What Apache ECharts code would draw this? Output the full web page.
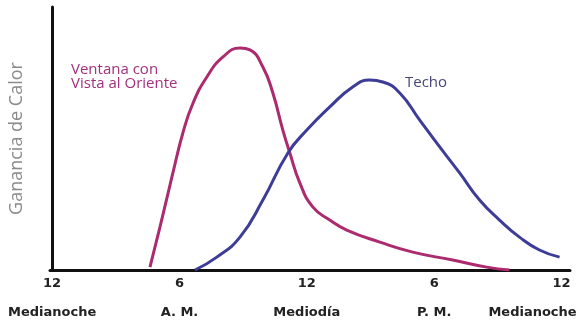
<!DOCTYPE html>
<html>
<head>
<meta charset="utf-8">
<script src="https://cdn.jsdelivr.net/npm/echarts@6/dist/echarts.min.js"></script>
<style>
html,body{margin:0;padding:0;background:#fff;}
#c{width:587px;height:326px;}
</style>
</head>
<body>
<div id="c"></div>
<script>
// Hours of the day (0 = midnight, 12 = noon, 24 = midnight)
const tickHours = [0, 6, 12, 18, 24];
const tickNumbers = ['12', '6', '12', '6', '12'];
const tickWords = ['Medianoche', 'A. M.', 'Mediodía', 'P. M.', 'Medianoche'];

const windowName = 'Ventana con\nVista al Oriente';
const roofName = 'Techo';

// East-facing window heat gain [hour, relative gain]
const windowHours = [4.61, 5.08, 5.69, 6.16, 6.64, 7.29, 8.05, 8.85, 9.32, 9.93, 10.40, 10.87, 11.2, 11.67, 12.28, 13.08, 13.88, 15.44, 16.99, 18.87, 20.47, 21.55];
const windowGain  = [1.1, 16.3, 36.9, 52.1, 63.5, 73.4, 81.0, 84.4, 83.7, 77.2, 67.3, 53.2, 44.5, 33.1, 24.0, 19.0, 15.2, 10.6, 6.8, 3.8, 1.1, 0];

// Roof heat gain [hour, relative gain]
const roofHours = [6.73, 7.76, 8.85, 9.93, 11.11, 12.0, 13.08, 14.16, 14.96, 15.58, 16.38, 17.32, 18.26, 19.20, 20.14, 21.08, 22.02, 22.96, 23.91];
const roofGain  = [0, 4.9, 12.5, 26.6, 44.5, 53.2, 62.0, 69.6, 72.2, 71.5, 67.3, 57.0, 46.8, 36.9, 26.6, 19.0, 12.5, 7.6, 4.9];

const zip = (xs, ys) => xs.map((x, i) => [x, ys[i]]);

const chart = echarts.init(document.getElementById('c'), null, {renderer: 'canvas'});
chart.setOption({
  animation: false,
  backgroundColor: '#ffffff',
  grid: {left: 50, right: 17, top: 7, bottom: 56, containLabel: false, outerBoundsMode: 'none'},
  xAxis: {
    type: 'value',
    min: -0.1,
    max: 24.4,
    axisLine: {show: true, lineStyle: {color: '#111', width: 3}},
    axisTick: {show: false},
    splitLine: {show: false},
    axisLabel: {
      customValues: tickHours,
      margin: 3,
      hideOverlap: false,
      formatter: function (v) {
        const i = tickHours.indexOf(v);
        if (i < 0) return '';
        const wStyle = (i === tickHours.length - 1) ? 'wl' : 'w';
        return '{n|' + tickNumbers[i] + '}\n{' + wStyle + '|' + tickWords[i] + '}';
      },
      rich: {
        n: {fontFamily: 'DejaVu Sans', fontWeight: 'bold', fontSize: 13, color: '#222', lineHeight: 22},
        w: {fontFamily: 'DejaVu Sans', fontWeight: 'bold', fontSize: 13, color: '#222', lineHeight: 36},
        wl: {fontFamily: 'DejaVu Sans', fontWeight: 'bold', fontSize: 13, color: '#222', lineHeight: 36, padding: [0, 58, 0, 0]}
      }
    }
  },
  yAxis: {
    type: 'value',
    min: 0,
    max: 100,
    name: 'Ganancia de Calor',
    nameLocation: 'middle',
    nameGap: 24,
    nameRotate: 90,
    nameTextStyle: {fontFamily: 'Open Sans', fontSize: 18, color: '#8a8a8a'},
    axisLine: {show: true, lineStyle: {color: '#111', width: 3}},
    axisTick: {show: false},
    axisLabel: {show: false},
    splitLine: {show: false}
  },
  series: [
    {
      name: windowName,
      type: 'line',
      data: zip(windowHours, windowGain),
      smooth: 0.5,
      showSymbol: false,
      lineStyle: {color: '#AC2A6E', width: 3},
      z: 3
    },
    {
      name: roofName,
      type: 'line',
      data: zip(roofHours, roofGain),
      smooth: 0.5,
      showSymbol: false,
      lineStyle: {color: '#3D3D98', width: 3},
      z: 4
    }
  ],
  graphic: [
    {
      type: 'text',
      left: 71, top: 62,
      style: {
        text: windowName,
        fontFamily: 'Open Sans',
        fontSize: 15,
        lineHeight: 14,
        fill: '#A2307A',
        align: 'center',
        width: 112
      }
    },
    {
      type: 'text',
      left: 405, top: 75,
      style: {
        text: roofName,
        fontFamily: 'Open Sans',
        fontSize: 15,
        fill: '#45457A'
      }
    }
  ]
});
</script>
</body>
</html>
